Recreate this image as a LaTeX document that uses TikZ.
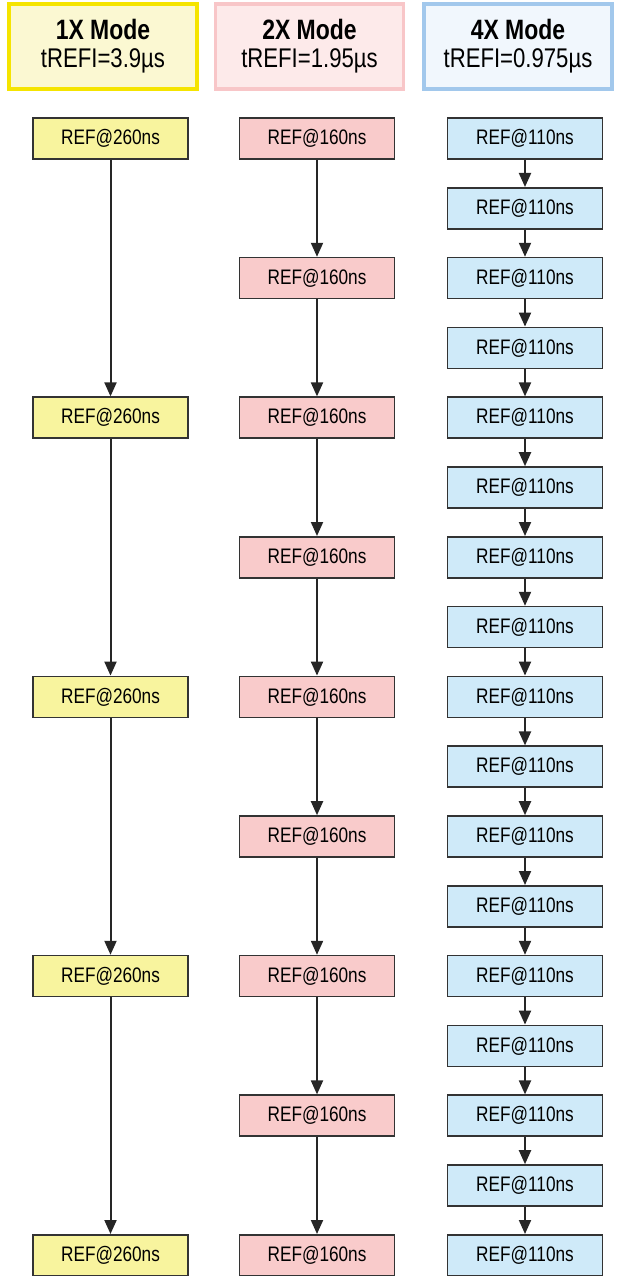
\documentclass[tikz,border=0pt]{standalone}
\usepackage{fontspec}
\setmainfont{Liberation Sans}[FakeStretch=0.82]
\usetikzlibrary{arrows.meta}
\definecolor{oneXfill}{HTML}{F8F49E}
\definecolor{oneXhead}{HTML}{FBF8D2}
\definecolor{oneXline}{HTML}{F5E400}
\definecolor{twoXfill}{HTML}{F9CBCB}
\definecolor{twoXhead}{HTML}{FDEAEA}
\definecolor{twoXline}{HTML}{F8C6C8}
\definecolor{fourXfill}{HTML}{CFEAF9}
\definecolor{fourXhead}{HTML}{F1F7FD}
\definecolor{fourXline}{HTML}{A2C8EC}
\tikzset{
    refbox/.style={draw=black!80, line width=1.6pt, minimum width=155pt,
        minimum height=41pt, inner sep=0pt, font=\fontsize{21}{24}\selectfont},
    headbox/.style={line width=3.5pt, minimum width=188pt, minimum height=85pt,
        inner sep=0pt, align=center, font=\fontsize{27}{28}\selectfont},
    arr/.style={line width=2pt, black!85, -{Triangle[length=14pt,width=12pt]}}
}
\newcommand{\headText}[2]{%
    {\fontsize{28}{28}\selectfont\bfseries #1}\\
    #2%
}

\begin{document}
\begin{tikzpicture}[x=1pt, y=-1pt]
    \useasboundingbox (0,0) rectangle (628,1276);
    % mode headers
    \node[headbox, draw=oneXline, fill=oneXhead] (hA) at (103,46.5) {\headText{1X Mode}{tREFI=3.9µs}};
    \node[headbox, draw=twoXline, fill=twoXhead] (hB) at (309.5,46.5) {\headText{2X Mode}{tREFI=1.95µs}};
    \node[headbox, draw=fourXline, fill=fourXhead] (hC) at (518,46.5) {\headText{4X Mode}{tREFI=0.975µs}};
    % 1X column
    \foreach \i in {0,4,...,16} {
        \node[refbox, fill=oneXfill] (a\i) at (110.5,{138.5+\i*69.8}) {REF@260ns};
    }
    \foreach \i/\j in {0/4,4/8,8/12,12/16} {
        \draw[arr] (a\i) -- (a\j);
    }
    % 2X column
    \foreach \i in {0,2,...,16} {
        \node[refbox, fill=twoXfill] (b\i) at (317,{138.5+\i*69.8}) {REF@160ns};
    }
    \foreach \i in {0,2,...,14} {
        \pgfmathtruncatemacro{\j}{\i+2}
        \draw[arr] (b\i) -- (b\j);
    }
    % 4X column
    \foreach \i in {0,...,16} {
        \node[refbox, fill=fourXfill] (c\i) at (525,{138.5+\i*69.8}) {REF@110ns};
    }
    \foreach \i in {0,...,15} {
        \pgfmathtruncatemacro{\j}{\i+1}
        \draw[arr] (c\i) -- (c\j);
    }
\end{tikzpicture}
\end{document}
